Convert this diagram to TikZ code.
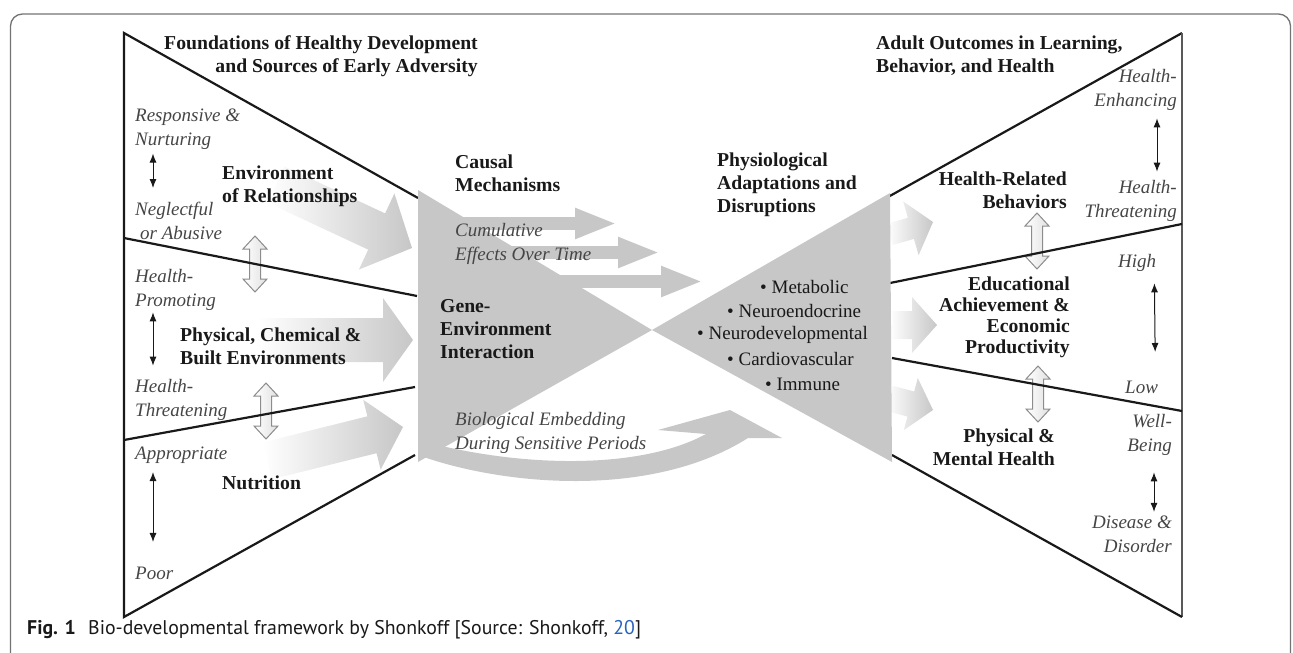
\documentclass[tikz,border=0pt]{standalone}
\usepackage{fontspec}
\setmainfont{Liberation Serif}
\newfontfamily\capfont{PT Sans}
\usetikzlibrary{arrows.meta}
\definecolor{tie}{gray}{0.78}
\definecolor{ink}{gray}{0.1}
\definecolor{soft}{gray}{0.27}
\definecolor{refblue}{RGB}{40,100,190}
\begin{document}
\begin{tikzpicture}[x=1pt, y=-1pt,
	every node/.style={inner sep=0pt, text=ink},
	head/.style={font=\bfseries\fontsize{19.7}{23}\selectfont},
	pole/.style={font=\itshape\fontsize{19}{24}\selectfont, text=soft},
	item/.style={font=\fontsize{19}{23}\selectfont, anchor=west},
	edge/.style={line width=2.2pt, draw=ink},
	updown/.style={line width=1pt, draw=ink, {Latex[length=9pt,width=7pt]}-{Latex[length=9pt,width=7pt]}},
	flow/.style={line width=13pt, draw=tie, -{Triangle[length=42pt,width=28pt]}},
	pics/fat/.style n args={4}{code={
		\shade[left color=white, right color=tie] (-#1,-#2) -- (-#3,-#2) -- (-#3,-#4) -- (0,0) -- (-#3,#4) -- (-#3,#2) -- (-#1,#2) -- cycle;}},
	pics/swap/.style={code={
		\shadedraw[draw=black!45, line width=1pt, left color=white, right color=black!12] (0,-28) -- (12,-15) -- (5.5,-15) -- (5.5,15) -- (12,15) -- (0,28) -- (-12,15) -- (-5.5,15) -- (-5.5,-15) -- (-12,-15) -- cycle;}}]
	\useasboundingbox (0,0) rectangle (1293,653);
	\clip (0,0) rectangle (1293,653);
	\draw[black!55, line width=1.3pt, rounded corners=12pt] (10.5,700) -- (10.5,14) -- (1290.5,14) -- (1290.5,700);

	\coordinate (ltop) at (124,33);
	\coordinate (lbot) at (124,617);
	\coordinate (lmid1) at (124,238);
	\coordinate (lmid2) at (124,440);
	\coordinate (gl1) at (418,198);
	\coordinate (gl2) at (417,296);
	\coordinate (gl3) at (415,387);
	\coordinate (gl4) at (415,455);
	\coordinate (rtop) at (1182,33);
	\coordinate (rbot) at (1182,617);
	\coordinate (rmid1) at (1182,224);
	\coordinate (rmid2) at (1182,411);
	\coordinate (gr1) at (888,197);
	\coordinate (gr2) at (890,283);
	\coordinate (gr3) at (892,358);
	\coordinate (gr4) at (892,455);

	\pic[rotate=-25] at (412,248) {fat={150}{20}{39}{42}};
	\pic at (413,340) {fat={155}{22}{30}{42}};
	\pic[rotate=14] at (403,427) {fat={140}{19}{32}{36}};
	\pic[rotate=16] at (933,222) {fat={45}{11}{23}{28}};
	\pic at (937,325) {fat={47}{14}{25}{28}};
	\pic[rotate=-15] at (933,410) {fat={45}{13}{23}{27}};
	\draw[flow] (440,223.5) -- (617,223.5);
	\draw[flow] (480,252.5) -- (660,252.5);
	\draw[flow] (540,281.5) -- (703,281.5);
	\pic at (255,264) {swap};
	\pic at (266,411) {swap};
	\pic at (1037,241) {swap};
	\pic at (1038,394) {swap};

	\draw[edge] (gl1) -- (ltop) -- (lbot) -- (gl4);
	\draw[edge] (lmid1) -- (gl2);
	\draw[edge] (lmid2) -- (gl3);
	\draw[edge] (gr1) -- (rtop);
	\draw[edge, line width=1.4pt, draw=black!65] (rtop) -- (rbot);
	\draw[edge] (rbot) -- (gr4);
	\draw[edge] (gr2) -- (rmid1);
	\draw[edge] (gr3) -- (rmid2);

	\fill[tie] (418,190) -- (652,330) -- (890,193) -- (892,462) -- (652,330) -- (418,462) -- cycle;
	\fill[tie] (418,455) .. controls (500,485) and (650,500) .. (748,438) -- (782,438) -- (730,410) -- (658,430) -- (706,434) .. controls (640,470) and (520,468) .. (418,440) -- cycle;

	\node[head, align=right, anchor=east] (found) at (478,56.5) {Foundations of Healthy Development\\and Sources of Early Adversity};
	\node[pole, align=left, anchor=west] (resp) at (135,129) {Responsive \&\\Nurturing};
	\node[pole, align=left, anchor=west] (negl) at (135,221) {Neglectful\\\hspace{5pt}or Abusive};
	\node[pole, align=left, anchor=west] (hpro) at (135,289.5) {Health-\\Promoting};
	\node[pole, align=left, anchor=west] (hthr) at (135,399.5) {Health-\\Threatening};
	\node[pole, anchor=west] (appr) at (135,455) {Appropriate};
	\node[pole, anchor=west] (poor) at (135,573) {Poor};
	\node[head, align=left, anchor=west] (envrel) at (222,186.5) {Environment\\of Relationships};
	\node[head, align=left, anchor=west] (phys) at (180,346) {Physical, Chemical \&\\Built Environments};
	\node[head, anchor=west] (nutr) at (222,483) {Nutrition};

	\node[head, align=left, anchor=west] (causal) at (455,173.5) {Causal\\Mechanisms};
	\node[pole, align=left, anchor=west] (cumul) at (455,244) {Cumulative\\Effects Over Time};
	\node[head, align=left, anchor=west] (gene) at (440,329.5) {Gene-\\Environment\\Interaction};
	\node[pole, align=left, anchor=west] (embed) at (455,433) {Biological Embedding\\During Sensitive Periods};
	\node[head, align=left, anchor=west] (physio) at (717,185) {Physiological\\Adaptations and\\Disruptions};
	\node[item] (metab) at (760,287) {\textbullet\ Metabolic};
	\node[item] (neuro) at (727,311) {\textbullet\ Neuroendocrine};
	\node[item] (neurodev) at (697,335) {\textbullet\ Neurodevelopmental};
	\node[item] (cardio) at (727,359) {\textbullet\ Cardiovascular};
	\node[item] (immune) at (765,384) {\textbullet\ Immune};

	\node[head, align=left, anchor=west] (adult) at (876,56) {Adult Outcomes in Learning,\\Behavior, and Health};
	\node[pole, align=right, anchor=east] (henh) at (1177,89.5) {Health-\\Enhancing};
	\node[pole, align=right, anchor=east] (hthr2) at (1177,200.5) {Health-\\Threatening};
	\node[head, align=right, anchor=east] (hrb) at (1067,190) {Health-Related\\Behaviors};
	\node[pole, anchor=west] (high) at (1118,263) {High};
	\node[head, align=right, anchor=east, font=\bfseries\fontsize{19.7}{21}\selectfont] (edu) at (1070,317.5) {Educational\\Achievement \&\\Economic\\Productivity};
	\node[pole, anchor=west] (low) at (1125,387) {Low};
	\node[pole, align=right, anchor=east] (well) at (1172,434.5) {Well-\\Being};
	\node[pole, align=right, anchor=east] (dis) at (1172,534.5) {Disease \&\\Disorder};
	\node[head, align=right, anchor=east] (pmh) at (1055,447.5) {Physical \&\\Mental Health};

	\draw[updown] ([xshift=18pt,yshift=-4pt]resp.south west) -- ([xshift=18pt,yshift=14pt]negl.north west);
	\draw[updown] ([xshift=18pt,yshift=-2pt]hpro.south west) -- ([xshift=18pt,yshift=13pt]hthr.north west);
	\draw[updown] ([xshift=18pt,yshift=-8.5pt]appr.south west) -- ([xshift=18pt,yshift=24.5pt]poor.north west);
	\draw[updown] ([xshift=-20pt,yshift=-8pt]henh.south east) -- ([xshift=-20pt,yshift=8pt]hthr2.north east);
	\draw[updown] ([xshift=-2pt,yshift=-11.5pt]high.south east) -- ([xshift=-3pt,yshift=28.5pt]low.north east);
	\draw[updown] ([xshift=-18pt,yshift=-17pt]well.south east) -- ([xshift=-18pt,yshift=4pt]dis.north east);

	\node[anchor=west, font=\capfont\bfseries\fontsize{19.8}{22}\selectfont] (fig) at (27,630) {Fig. 1};
	\node[anchor=west, font=\capfont\fontsize{19.8}{22}\selectfont] (cap) at (88,630) {Bio-developmental framework by Shonkoff [Source: Shonkoff, \textcolor{refblue}{20}]};
\end{tikzpicture}
\end{document}
